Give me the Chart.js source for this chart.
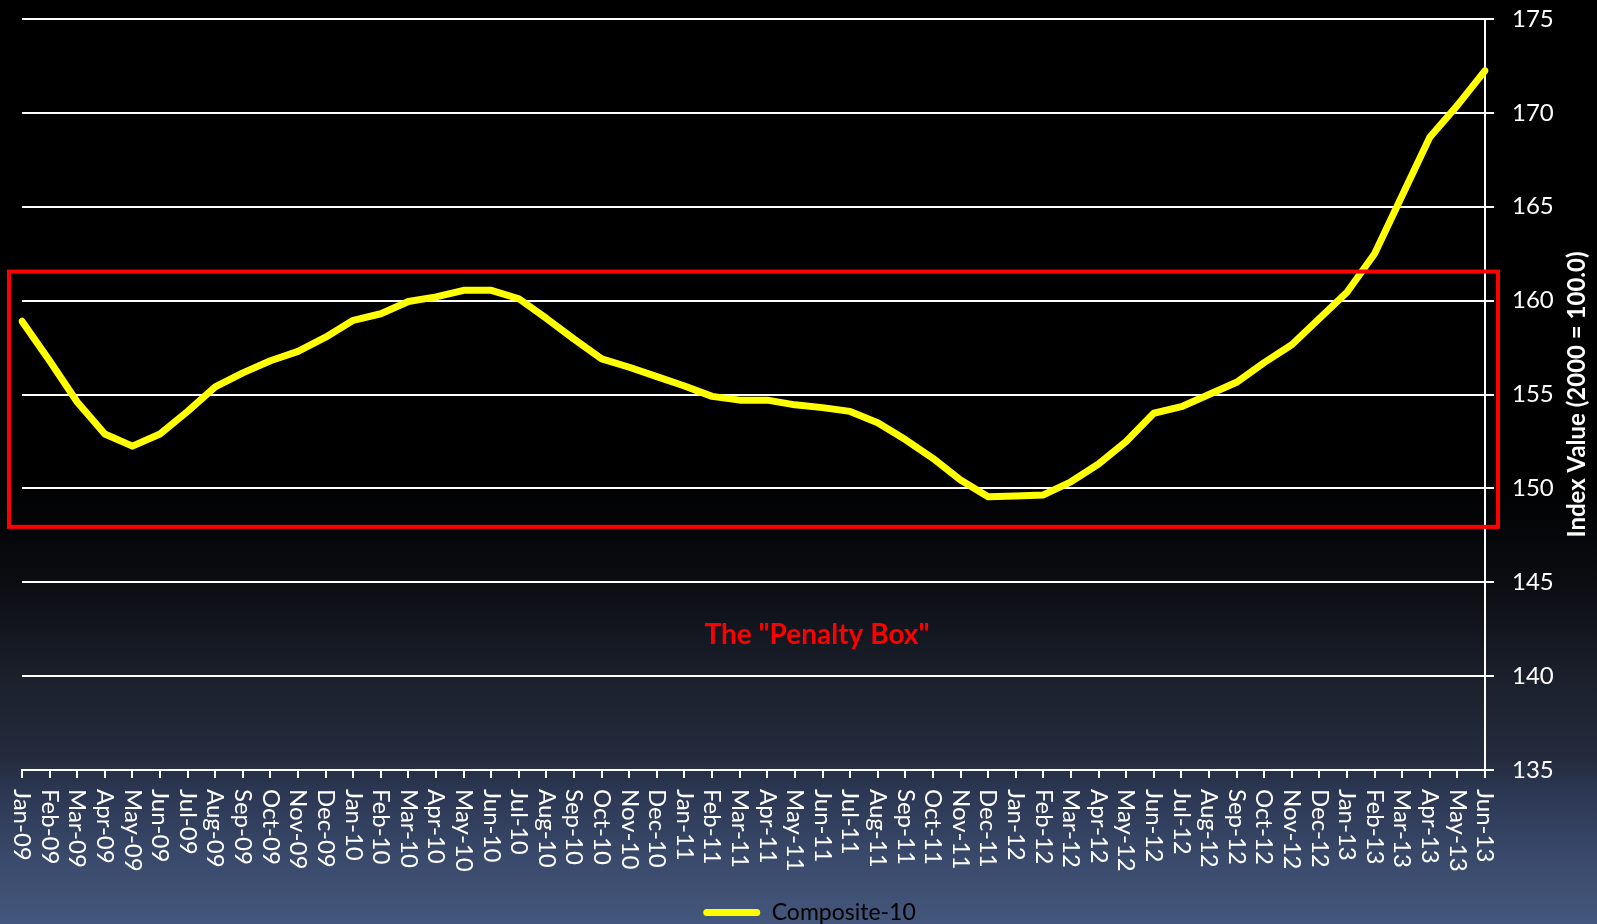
<!DOCTYPE html>
<html>
<head>
<meta charset="utf-8">
<title>Composite-10</title>
<script src="https://cdn.jsdelivr.net/npm/chart.js@4.4.1/dist/chart.umd.min.js"></script>
<style>
  html, body { margin: 0; padding: 0; background: #000; }
  #wrap { position: relative; width: 1597px; height: 924px; }
</style>
</head>
<body>
<div id="wrap"><canvas id="hpiChart"></canvas></div>
<script>
  const months = [
    "Jan-09","Feb-09","Mar-09","Apr-09","May-09","Jun-09","Jul-09","Aug-09","Sep-09","Oct-09","Nov-09","Dec-09",
    "Jan-10","Feb-10","Mar-10","Apr-10","May-10","Jun-10","Jul-10","Aug-10","Sep-10","Oct-10","Nov-10","Dec-10",
    "Jan-11","Feb-11","Mar-11","Apr-11","May-11","Jun-11","Jul-11","Aug-11","Sep-11","Oct-11","Nov-11","Dec-11",
    "Jan-12","Feb-12","Mar-12","Apr-12","May-12","Jun-12","Jul-12","Aug-12","Sep-12","Oct-12","Nov-12","Dec-12",
    "Jan-13","Feb-13","Mar-13","Apr-13","May-13","Jun-13"
  ];

  const composite10 = [
    158.9, 156.8, 154.6, 152.9, 152.25, 152.9, 154.1, 155.4, 156.15, 156.8, 157.3, 158.05,
    158.95, 159.3, 159.95, 160.2, 160.55, 160.55, 160.1, 159.05, 157.95, 156.9, 156.45, 155.95,
    155.45, 154.9, 154.7, 154.7, 154.45, 154.3, 154.1, 153.5, 152.6, 151.6, 150.45, 149.55,
    149.6, 149.65, 150.35, 151.3, 152.5, 154.0, 154.35, 155.0, 155.65, 156.7, 157.65, 159.05,
    160.45, 162.5, 165.6, 168.7, 170.4, 172.25
  ];

  const yMin = 135;
  const yMax = 175;
  const yStep = 5;

  // the "penalty box" band and its caption
  const boxLow = 147.95;
  const boxHigh = 161.55;
  const boxCaption = 'The "Penalty Box"';
  const captionAt = { x: 28.8, y: 142.2 };

  const yTitle = 'Index Value (2000 = 100.0)';

  const backdrop = {
    id: 'backdrop',
    beforeDraw(chart) {
      const { ctx, width, height } = chart;
      const g = ctx.createLinearGradient(0, 0, 0, height);
      g.addColorStop(0, '#000000');
      g.addColorStop(0.52, '#000000');
      g.addColorStop(0.63, '#0b0d12');
      g.addColorStop(0.736, '#1b202c');
      g.addColorStop(0.82, '#232b3d');
      g.addColorStop(0.85, '#2a3550');
      g.addColorStop(0.93, '#3a4a6c');
      g.addColorStop(1, '#44577c');
      ctx.save();
      ctx.fillStyle = g;
      ctx.fillRect(0, 0, width, height);
      ctx.restore();
    }
  };

  const extras = {
    id: 'extras',
    afterDatasetsDraw(chart) {
      const { ctx, chartArea, scales: { x, y } } = chart;
      const top = y.getPixelForValue(boxHigh);
      const bottom = y.getPixelForValue(boxLow);
      ctx.save();
      ctx.strokeStyle = '#ff0000';
      ctx.lineWidth = 4;
      ctx.strokeRect(chartArea.left - 13, top, chartArea.right - chartArea.left + 26, bottom - top);

      ctx.fillStyle = '#ff0000';
      ctx.font = 'bold 28px Lato';
      ctx.textAlign = 'center';
      ctx.textBaseline = 'middle';
      ctx.fillText(boxCaption, x.getPixelForValue(captionAt.x), y.getPixelForValue(captionAt.y));
      ctx.restore();
    },
    afterDraw(chart) {
      const { ctx, chartArea, scales: { x } } = chart;
      ctx.save();
      ctx.fillStyle = '#ffffff';

      // month labels run top-to-bottom under each tick
      ctx.font = '24px Lato';
      ctx.textAlign = 'left';
      ctx.textBaseline = 'middle';
      x.ticks.forEach((t, i) => {
        ctx.save();
        ctx.translate(x.getPixelForTick(i), chartArea.bottom + 19);
        ctx.rotate(Math.PI / 2);
        ctx.fillText(months[i], 0, 0);
        ctx.restore();
      });

      // right-hand axis title reads bottom-to-top
      ctx.font = 'bold 24px Lato';
      ctx.textAlign = 'center';
      ctx.translate(1577, (chartArea.top + chartArea.bottom) / 2);
      ctx.rotate(-Math.PI / 2);
      ctx.fillText(yTitle, 0, 0);
      ctx.restore();
    }
  };

  new Chart(document.getElementById('hpiChart'), {
    type: 'line',
    data: {
      labels: months,
      datasets: [{
        label: 'Composite-10',
        data: composite10,
        borderColor: '#ffff00',
        backgroundColor: '#ffff00',
        borderWidth: 7,
        borderCapStyle: 'round',
        borderJoinStyle: 'round',
        pointRadius: 0,
        tension: 0
      }]
    },
    options: {
      responsive: true,
      maintainAspectRatio: false,
      animation: false,
      // legend sits flush with the bottom edge
      layout: { padding: { left: 22, top: 19, right: 0, bottom: -10 } },
      plugins: {
        tooltip: { enabled: false },
        legend: {
          position: 'bottom',
          labels: {
            color: '#000000',
            font: { family: 'Lato', size: 23 },
            boxWidth: 57,
            boxHeight: 7,
            padding: 4,
            useBorderRadius: true,
            borderRadius: 3.5,
            generateLabels: (chart) => chart.data.datasets.map((ds, i) => ({
              text: ds.label,
              fillStyle: ds.borderColor,
              strokeStyle: ds.borderColor,
              lineWidth: 0,
              borderRadius: 3.5,
              datasetIndex: i
            }))
          }
        }
      },
      scales: {
        x: {
          offset: false,
          afterFit: (scale) => {
            scale.height = 127;
            scale.paddingLeft = 0;
            scale.paddingRight = 0;
          },
          ticks: { display: false, autoSkip: false },
          grid: {
            drawOnChartArea: false,
            drawTicks: true,
            tickLength: 8,
            color: '#ffffff',
            lineWidth: 2
          },
          border: { display: true, color: '#ffffff', width: 2 }
        },
        y: {
          position: 'right',
          min: yMin,
          max: yMax,
          afterFit: (scale) => {
            scale.width = 112;
            scale.paddingTop = 0;
            scale.paddingBottom = 0;
          },
          ticks: {
            stepSize: yStep,
            color: '#ffffff',
            font: { family: 'Lato', size: 24 },
            padding: 18
          },
          grid: {
            color: '#ffffff',
            lineWidth: 2,
            tickLength: 9
          },
          border: { display: true, color: '#ffffff', width: 2 }
        }
      }
    },
    plugins: [backdrop, extras]
  });
</script>
</body>
</html>
